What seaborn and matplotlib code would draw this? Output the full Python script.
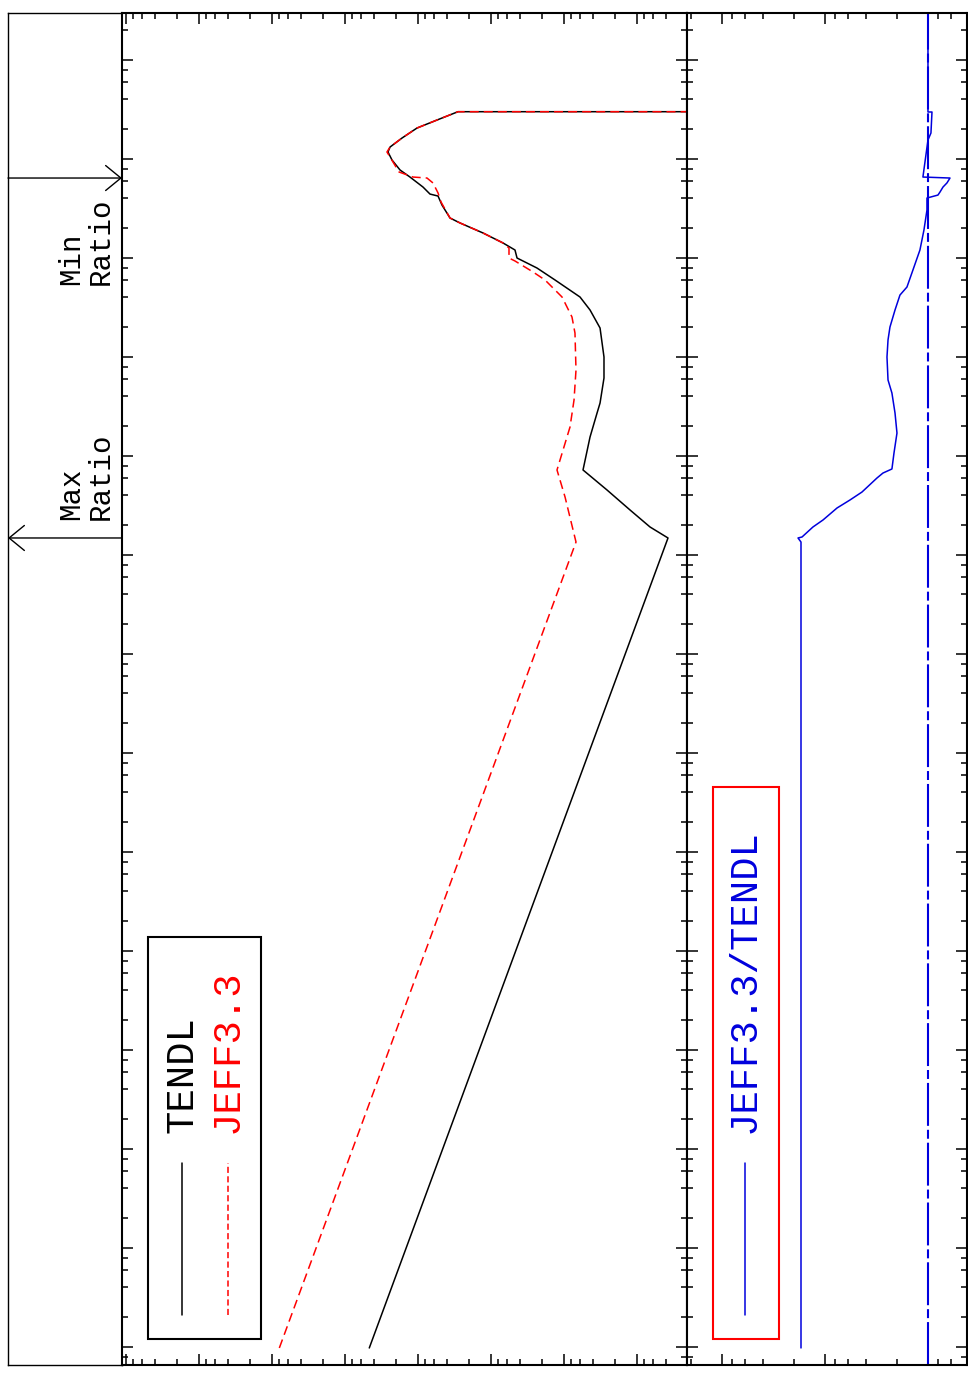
import numpy as np
import matplotlib
matplotlib.use("Agg")
import matplotlib.pyplot as plt
import seaborn as sns
from matplotlib.ticker import LogLocator, NullFormatter
from matplotlib.patches import Rectangle
from matplotlib.lines import Line2D

# log10 of energy (MeV) and cross-section (b)
tendl_log_e = [-11.01, -2.828, -2.717, -2.545, -2.343, -2.141, -1.808, -1.566, -1.465,
               -1.212, -1.0, -0.707, -0.525, -0.394, -0.222, -0.101, 0.0, 0.081, 0.152,
               0.253, 0.354, 0.404, 0.535, 0.626, 0.646, 0.717, 0.818, 0.889, 0.990,
               1.071, 1.121, 1.212, 1.313, 1.394, 1.478, 1.478, 2.6]
tendl_log_xs = [0.664, -3.424, -3.178, -2.904, -2.589, -2.261, -2.357, -2.453, -2.494,
                -2.548, -2.548, -2.494, -2.357, -2.220, -1.878, -1.631, -1.358, -1.330, -1.166,
                -0.892, -0.578, -0.441, -0.331, -0.277, -0.167, -0.071, 0.107, 0.243, 0.353,
                0.408, 0.380, 0.216, 0.011, -0.263, -0.550, -20, -20]

jeff_log_e = [-11.01, -2.869, -2.414, -2.141, -1.707, -1.434, -1.131, -0.758, -0.596,
              -0.394, -0.222, -0.141, -0.030, 0.0, 0.101, 0.152, 0.253, 0.354, 0.404,
              0.566, 0.657, 0.758, 0.808, 0.818, 0.869, 1.071, 1.121, 1.212, 1.313,
              1.394, 1.478, 1.478, 2.6]
jeff_log_xs = [1.895, -2.165, -2.015, -1.905, -2.083, -2.138, -2.165, -2.151, -2.110,
               -1.974, -1.741, -1.577, -1.330, -1.248, -1.248, -1.166, -0.892, -0.578, -0.441,
               -0.318, -0.277, -0.208, -0.126, 0.066, 0.257, 0.422, 0.380, 0.216, 0.011,
               -0.263, -0.550, -20, -20]

ratio_log_e = [-11.01, -2.869, -2.828, -2.818, -2.717, -2.646, -2.525, -2.444, -2.364,
               -2.222, -2.172, -2.131, -1.970, -1.768, -1.566, -1.364, -1.232, -1.0,
               -0.828, -0.697, -0.525, -0.374, -0.293, -0.121, 0.081, 0.283, 0.485,
               0.606, 0.636, 0.667, 0.717, 0.758, 0.808, 0.818, 1.192, 1.263, 1.475,
               1.475, 2.6]
ratio_log = [1.233, 1.233, 1.262, 1.223, 1.117, 1.019, 0.883, 0.757, 0.641,
             0.495, 0.437, 0.350, 0.330, 0.301, 0.320, 0.350, 0.388, 0.398,
             0.388, 0.369, 0.320, 0.272, 0.204, 0.146, 0.078, 0.039, 0.0097,
             0.0097, -0.097, -0.117, -0.146, -0.184, -0.214, 0.049, 0.0, -0.029, -0.039,
             0.0, 0.0]

labels = ["TENDL", "JEFF3.3", "JEFF3.3/TENDL"]

tendl_e = 10 ** np.array(tendl_log_e)
tendl_xs = 10 ** np.array(tendl_log_xs)
jeff_e = 10 ** np.array(jeff_log_e)
jeff_xs = 10 ** np.array(jeff_log_xs)
ratio_e = 10 ** np.array(ratio_log_e)
ratio = 10 ** np.array(ratio_log)

sns.set_theme(style="white")
plt.rcParams["font.family"] = ["Liberation Mono", "DejaVu Sans Mono"]

W, H = 968, 1382
fig = plt.figure(figsize=(W / 100, H / 100), dpi=100)


def box(x0, x1, y0, y1):
    return [x0 / W, 1 - y1 / H, (x1 - x0) / W, (y1 - y0) / H]


e_lim = (10 ** -11.182, 10 ** 2.475)
ax_lab = fig.add_axes(box(8, 122, 13, 1365))
ax_xs = fig.add_axes(box(122, 687, 13, 1365))
ax_r = fig.add_axes(box(687, 967, 13, 1365))

# cross-section panel (rotated: energy up, cross-section increasing leftward)
ax_xs.set_xscale("log")
ax_xs.set_yscale("log")
sns.lineplot(x=tendl_xs, y=tendl_e, sort=False, estimator=None, ax=ax_xs,
             color="black", lw=1.1, legend=False)
sns.lineplot(x=jeff_xs, y=jeff_e, sort=False, estimator=None, ax=ax_xs,
             color="#ff0000", lw=1.1, linestyle=(0, (5.9, 3.3)), legend=False)
ax_xs.set_xlim(10 ** 4.048, 10 ** -3.684)

# ratio panel
ax_r.set_xscale("log")
ax_r.set_yscale("log")
ax_r.axvline(1.0, color="#0000dd", lw=1.5, linestyle=(0, (20.6, 1.9, 4.3, 1.9)))
sns.lineplot(x=ratio, y=ratio_e, sort=False, estimator=None, ax=ax_r,
             color="#0000dd", lw=1.1, legend=False)
ax_r.set_xlim(10 ** 2.340, 10 ** -0.379)

for ax in (ax_xs, ax_r):
    ax.set_ylim(*e_lim)
    for axis in (ax.xaxis, ax.yaxis):
        axis.set_major_locator(LogLocator(base=10, numticks=40))
        axis.set_minor_locator(LogLocator(base=10, subs=(2, 4, 6, 8), numticks=40))
        axis.set_major_formatter(NullFormatter())
        axis.set_minor_formatter(NullFormatter())
    ax.tick_params(which="both", direction="in", top=True, right=True, bottom=True,
                   left=True, color="black", width=1.1)
    ax.tick_params(which="major", length=8)
    ax.tick_params(which="minor", length=4)
    ax.set_xlabel("")
    ax.set_ylabel("")
    for s in ax.spines.values():
        s.set_color("black")
        s.set_linewidth(1.5)

# annotation strip
ax_lab.set_yscale("log")
ax_lab.set_ylim(*e_lim)
ax_lab.set_xlim(0, 1)
ax_lab.set_xticks([])
ax_lab.set_yticks([])
ax_lab.yaxis.set_minor_locator(plt.NullLocator())
for s in ax_lab.spines.values():
    s.set_color("black")
    s.set_linewidth(1.0)

e_min = ratio_e[int(np.argmin(ratio))]
e_max = ratio_e[int(np.argmax(ratio))]
arrow = dict(arrowstyle="->,head_length=1.1,head_width=0.9", mutation_scale=10,
             lw=1.0, color="black", shrinkA=0, shrinkB=0)
ax_lab.annotate("", xy=(1, e_min), xycoords=("axes fraction", "data"),
                xytext=(0, e_min), textcoords=("axes fraction", "data"), arrowprops=arrow)
ax_lab.annotate("", xy=(0, e_max), xycoords=("axes fraction", "data"),
                xytext=(1, e_max), textcoords=("axes fraction", "data"), arrowprops=arrow)
ax_lab.annotate("Min\nRatio", xy=(0.684, e_min), xycoords=("axes fraction", "data"),
                xytext=(0, -14), textcoords="offset points", rotation=90,
                ha="center", va="top", multialignment="left", fontsize=21,
                linespacing=1.1, color="black")
ax_lab.annotate("Max\nRatio", xy=(0.684, e_max), xycoords=("axes fraction", "data"),
                xytext=(0, 13), textcoords="offset points", rotation=90,
                ha="center", va="bottom", multialignment="left", fontsize=21,
                linespacing=1.1, color="black")

# legends, drawn by hand because they are rotated
tf = fig.transFigure
fig.add_artist(Rectangle((148 / W, 1 - 1339 / H), 113 / W, 402 / H, transform=tf,
                         fill=False, edgecolor="black", lw=1.5))
fig.add_artist(Line2D([182 / W] * 2, [1 - 1315 / H, 1 - 1163 / H], transform=tf,
                      color="black", lw=1.1))
fig.add_artist(Line2D([228 / W] * 2, [1 - 1315 / H, 1 - 1163 / H], transform=tf,
                      color="#ff0000", lw=1.1, linestyle=(0, (4, 2.2))))
fig.text(182 / W, 1 - 1133 / H, labels[0], rotation=90, ha="center", va="bottom",
         fontsize=28, color="black")
fig.text(228 / W, 1 - 1133 / H, labels[1], rotation=90, ha="center", va="bottom",
         fontsize=28, color="#ff0000")

fig.add_artist(Rectangle((713 / W, 1 - 1339 / H), 66 / W, 552 / H, transform=tf,
                         fill=False, edgecolor="#ff0000", lw=1.5))
fig.add_artist(Line2D([745 / W] * 2, [1 - 1315 / H, 1 - 1163 / H], transform=tf,
                      color="#0000dd", lw=1.1))
fig.text(745 / W, 1 - 1133 / H, labels[2], rotation=90, ha="center", va="bottom",
         fontsize=28, color="#0000dd")

fig.savefig("out.png", dpi=100, facecolor="white")
